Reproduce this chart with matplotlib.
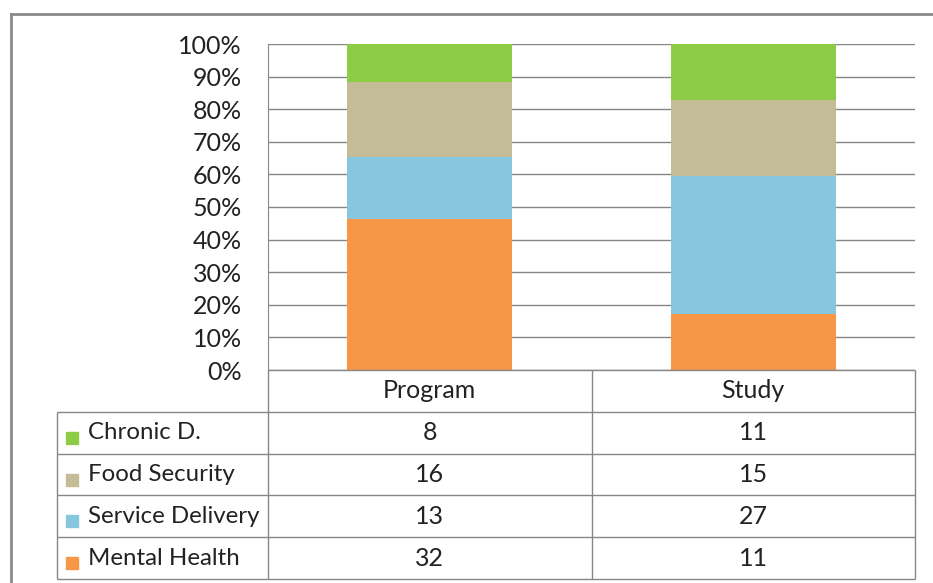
import numpy as np
import matplotlib
matplotlib.use("Agg")
from matplotlib import pyplot as plt
from matplotlib.lines import Line2D

#%% Données

groupes = ["Program", "Study"]
series = ["Mental Health", "Service Delivery", "Food Security", "Chronic D."]
mental_health = [32, 11]
service_delivery = [13, 27]
food_security = [16, 15]
chronic_d = [8, 11]
couleurs = ["#F79646", "#86C7DD", "#C4BB97", "#8CCC47"]

valeurs = np.array([mental_health, service_delivery, food_security, chronic_d], dtype=float)
pourcent = valeurs / valeurs.sum(axis=0) * 100

#%% Figure

plt.rcParams['font.family'] = ['Lato', 'DejaVu Sans']
W, H = 933, 583
fs = 18
gris = "#868686"
texte = "#222222"
fig = plt.figure(figsize=(W/100, H/100), dpi=100)

x0, x1, ytop, ybas = 268, 915, 44, 370
ax = fig.add_axes([x0/W, 1-ybas/H, (x1-x0)/W, (ybas-ytop)/H])

x = np.arange(len(groupes))
bas = np.zeros(len(groupes))
for k in range(len(series)):
    ax.bar(x, pourcent[k], bottom=bas, width=0.51, color=couleurs[k], zorder=3, linewidth=0)
    bas += pourcent[k]

ax.set_xlim(-0.5, 1.5)
ax.set_ylim(0, 100)
ax.set_yticks(np.arange(0, 101, 10))
ax.set_yticklabels([f"{v}%" for v in range(0, 101, 10)], fontsize=fs, color=texte)
ax.yaxis.grid(True, color=gris, linewidth=1, zorder=0)
ax.tick_params(axis='y', length=0, pad=19)
ax.set_xticks([])
for s in ["top", "right", "bottom"]:
    ax.spines[s].set_visible(False)
ax.spines["left"].set_color(gris)

#%% Tableau de données (même échelle en x que le graphe)

xl, ybas_tab = 57, 579
larg_cat = (x1 - x0) / len(groupes)
gauche = -0.5 - (x0 - xl) / larg_cat
axt = fig.add_axes([xl/W, 1-ybas_tab/H, (x1-xl)/W, (ybas_tab-ybas)/H])
axt.set_xlim(gauche, len(groupes) - 0.5)
nlig = len(series) + 1
axt.set_ylim(nlig, 0)
axt.axis("off")

# lignes du tableau
axt.hlines(0, -0.5, len(groupes) - 0.5, color=gris, linewidth=1, clip_on=False)
axt.hlines(np.arange(1, nlig + 1), gauche, len(groupes) - 0.5, color=gris, linewidth=1, clip_on=False)
axt.vlines([gauche], 1, nlig, color=gris, linewidth=1, clip_on=False)
axt.vlines(np.arange(len(groupes) + 1) - 0.5, 0, nlig, color=gris, linewidth=1, clip_on=False)

for j, g in enumerate(groupes):
    axt.text(j, 0.5, g, ha="center", va="center", fontsize=fs, color=texte)

ordre = list(range(len(series)))[::-1]
for i, k in enumerate(ordre):
    yl = i + 1.5
    axt.text(gauche + 31/larg_cat, yl, series[k], ha="left", va="center", fontsize=17.3, color=texte)
    axt.plot([gauche + 15/larg_cat], [yl + 0.12], marker='s', markersize=8.5, color=couleurs[k],
             linestyle='none', clip_on=False)
    for j in range(len(groupes)):
        axt.text(j, yl, str(int(valeurs[k][j])), ha="center", va="center", fontsize=fs, color=texte)

# cadre extérieur
fig.add_artist(Line2D([11/W, 1], [1-14/H, 1-14/H], color="#8A8A8A", linewidth=2))
fig.add_artist(Line2D([11/W, 11/W], [1-14/H, 0], color="#8A8A8A", linewidth=2))

fig.savefig("out.png", dpi=100)
